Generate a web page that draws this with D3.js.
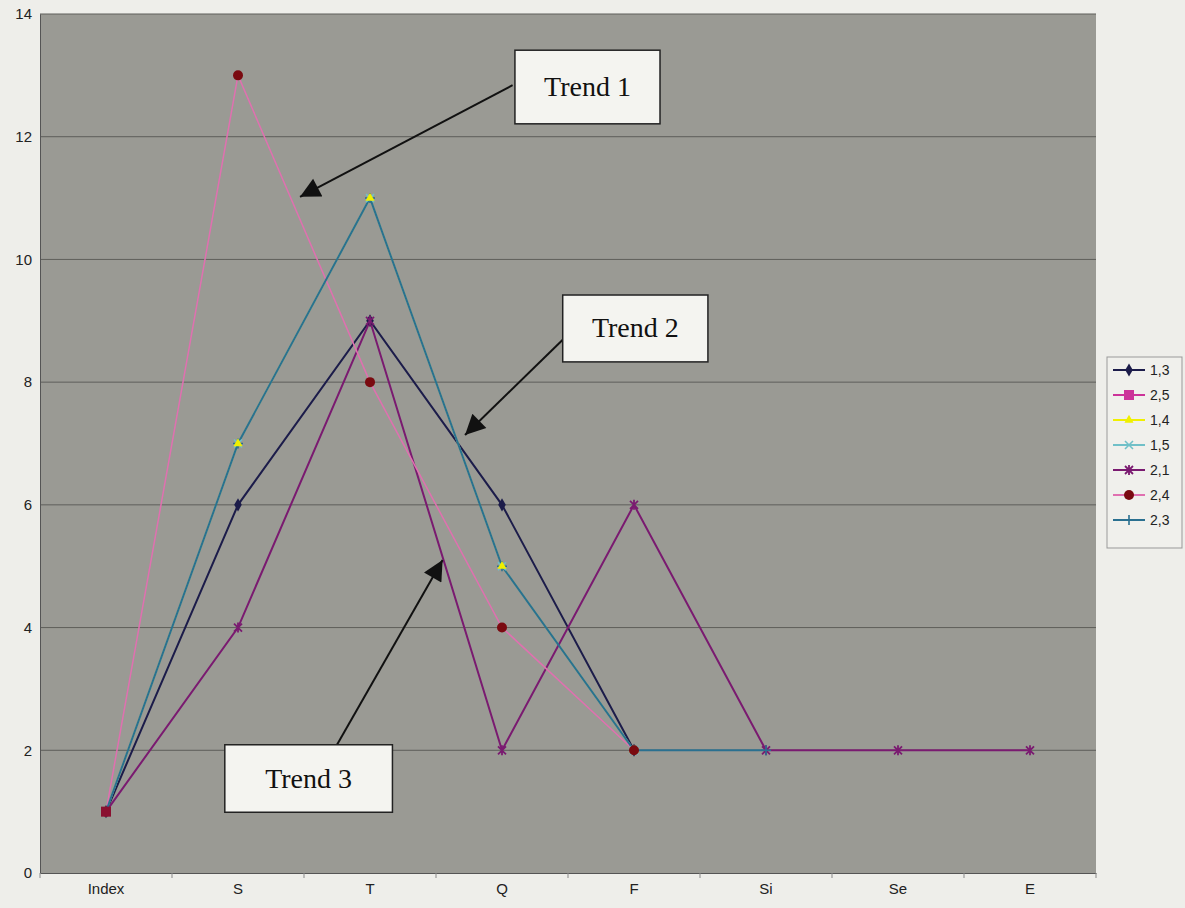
<!DOCTYPE html>
<html>
<head>
<meta charset="utf-8">
<script src="https://cdn.jsdelivr.net/npm/d3@7"></script>
<style>
body { margin:0; background:#eeeeea; }
svg { display:block; }
</style>
</head>
<body>
<script>
var categories = ["Index","S","T","Q","F","Si","Se","E"];
var yTicks = [0,2,4,6,8,10,12,14];

var s13 = [1,6,9,6,2,null,null,null];
var s25 = [1,null,null,null,null,null,null,null];
var s14 = [1,7,11,5,2,null,null,null];
var s15 = [1,7,11,5,2,null,null,null];
var s21 = [1,4,9,2,6,2,2,2];
var s24 = [1,13,8,4,2,null,null,null];
var s23 = [1,7,11,5,2,2,null,null];

var seriesNames = ["1,3","2,5","1,4","1,5","2,1","2,4","2,3"];
var seriesValues = [s13,s25,s14,s15,s21,s24,s23];
var lineColors = ["#1c1c4a","#cc3399","#f0f000","#70c0c8","#7a1a70","#e070b0","#2a7090"];
var markerColors = ["#1c1c4a","#8a1030","#f0f000","#70c0c8","#7a1a70","#7a0a10","#2a7090"];
var markerTypes = ["diamond","square","triangle","x","star","circle","plus"];
var lineWidths = [2,1.5,1.5,1.5,2,1.5,2];
// marker draw order, so the overlaps look like the reference
var markerOrder = [0,3,4,6,2,5,1];

var annotations = [
  {text:"Trend 1", x0:3.598, x1:4.697, y0:13.41, y1:12.21, ax:3.58, ay:12.84, tx:1.97, ty:11.02},
  {text:"Trend 2", x0:3.96, x1:5.06, y0:9.42, y1:8.33, ax:3.96, ay:8.69, tx:3.22, ty:7.14},
  {text:"Trend 3", x0:1.40, x1:2.67, y0:2.09, y1:0.99, ax:2.25, ay:2.09, tx:3.05, ty:5.10}
];

var W = 1185, H = 908;
var mLeft = 40, mTop = 14, pw = 1056, ph = 859;

var svg = d3.select("body").append("svg").attr("width", W).attr("height", H);

var x = d3.scaleBand().domain(categories).range([mLeft, mLeft+pw]);
var xu = d3.scaleLinear().domain([0, categories.length]).range([mLeft, mLeft+pw]);
var y = d3.scaleLinear().domain([0,14]).range([mTop+ph, mTop]);

// plot area
svg.append("rect").attr("x", mLeft).attr("y", mTop).attr("width", pw).attr("height", ph)
  .attr("fill", "#9a9a94");

// gridlines
svg.selectAll("line.grid").data(yTicks.slice(1)).enter().append("line")
  .attr("class","grid")
  .attr("x1", mLeft).attr("x2", mLeft+pw)
  .attr("y1", function(d){ return y(d); }).attr("y2", function(d){ return y(d); })
  .attr("stroke", "#5e5e5a").attr("stroke-width", 1);

// y axis
var yAxis = svg.append("g").attr("transform","translate("+mLeft+",0)")
  .call(d3.axisLeft(y).tickValues(yTicks).tickSize(0).tickPadding(8));
yAxis.select(".domain").attr("stroke","#555");
yAxis.selectAll("text").attr("font-family","Arial, Liberation Sans, sans-serif").attr("font-size","15px").attr("fill","#222");

// x axis
var xAxis = svg.append("g").attr("transform","translate(0,"+(mTop+ph)+")")
  .call(d3.axisBottom(x).tickSize(0).tickPadding(10));
xAxis.select(".domain").attr("stroke","#555");
xAxis.selectAll("text").attr("font-family","Arial, Liberation Sans, sans-serif").attr("font-size","15px").attr("fill","#222");
xAxis.selectAll("line.sep").data(d3.range(categories.length+1)).enter().append("line")
  .attr("class","sep")
  .attr("x1", function(d){ return xu(d); }).attr("x2", function(d){ return xu(d); })
  .attr("y1", 0).attr("y2", 5).attr("stroke","#888");

function cx(i){ return x(categories[i]) + x.bandwidth()/2; }

function drawMarker(g, type, color, px, py) {
  if (type === "diamond") {
    g.append("path").attr("d", d3.symbol(d3.symbolDiamond, 50)()).attr("transform","translate("+px+","+py+")").attr("fill",color);
  } else if (type === "square") {
    g.append("rect").attr("x", px-5).attr("y", py-5).attr("width",10).attr("height",10).attr("fill",color);
  } else if (type === "triangle") {
    g.append("path").attr("d", d3.symbol(d3.symbolTriangle, 36)()).attr("transform","translate("+px+","+py+")").attr("fill",color);
  } else if (type === "circle") {
    g.append("circle").attr("cx",px).attr("cy",py).attr("r",5).attr("fill",color);
  } else if (type === "x") {
    g.append("path").attr("d","M-4,-4L4,4M-4,4L4,-4").attr("transform","translate("+px+","+py+")").attr("stroke",color).attr("stroke-width",1.6).attr("fill","none");
  } else if (type === "star") {
    g.append("path").attr("d","M-4,-4L4,4M-4,4L4,-4M0,-5L0,5").attr("transform","translate("+px+","+py+")").attr("stroke",color).attr("stroke-width",1.8).attr("fill","none");
  } else if (type === "plus") {
    g.append("path").attr("d","M-5,0L5,0M0,-5L0,5").attr("transform","translate("+px+","+py+")").attr("stroke",color).attr("stroke-width",1.6).attr("fill","none");
  }
}

var line = d3.line()
  .defined(function(d){ return d != null; })
  .x(function(d, i){ return cx(i); })
  .y(function(d){ return y(d); });

seriesValues.forEach(function(vals, k){
  svg.append("path").datum(vals).attr("d", line)
    .attr("fill","none").attr("stroke", lineColors[k]).attr("stroke-width", lineWidths[k]);
});

markerOrder.forEach(function(k){
  var g = svg.append("g");
  seriesValues[k].forEach(function(v, i){
    if (v != null) drawMarker(g, markerTypes[k], markerColors[k], cx(i), y(v));
  });
});

// annotations
var defs = svg.append("defs");
defs.append("marker").attr("id","arrow").attr("viewBox","0 0 10 10")
  .attr("refX",10).attr("refY",5).attr("markerWidth",12).attr("markerHeight",10)
  .attr("markerUnits","strokeWidth").attr("orient","auto")
  .append("path").attr("d","M0,0L10,5L0,10z").attr("fill","#111");

annotations.forEach(function(a){
  svg.append("line")
    .attr("x1", xu(a.ax)).attr("y1", y(a.ay)).attr("x2", xu(a.tx)).attr("y2", y(a.ty))
    .attr("stroke","#111").attr("stroke-width",2).attr("marker-end","url(#arrow)");
  svg.append("rect")
    .attr("x", xu(a.x0)).attr("y", y(a.y0))
    .attr("width", xu(a.x1)-xu(a.x0)).attr("height", y(a.y1)-y(a.y0))
    .attr("fill","#f4f4f0").attr("stroke","#222").attr("stroke-width",1.5);
  svg.append("text")
    .attr("x", (xu(a.x0)+xu(a.x1))/2).attr("y", (y(a.y0)+y(a.y1))/2 + 9)
    .attr("text-anchor","middle")
    .attr("font-family","Liberation Serif, Times New Roman, serif").attr("font-size","28px").attr("fill","#111")
    .text(a.text);
});

// legend
var lg = svg.append("g").attr("transform","translate(1107,357)");
lg.append("rect").attr("width",75).attr("height",191).attr("fill","#f0f0ec").attr("stroke","#999");
seriesNames.forEach(function(name, k){
  var yy = 13 + k*25;
  lg.append("line").attr("x1",6).attr("x2",38).attr("y1",yy).attr("y2",yy)
    .attr("stroke", lineColors[k]).attr("stroke-width", 2);
  drawMarker(lg, markerTypes[k], k === 1 ? lineColors[1] : markerColors[k], 22, yy);
  lg.append("text").attr("x",43).attr("y",yy+5)
    .attr("font-family","Arial, Liberation Sans, sans-serif").attr("font-size","14px").attr("fill","#222")
    .text(name);
});
</script>
</body>
</html>
